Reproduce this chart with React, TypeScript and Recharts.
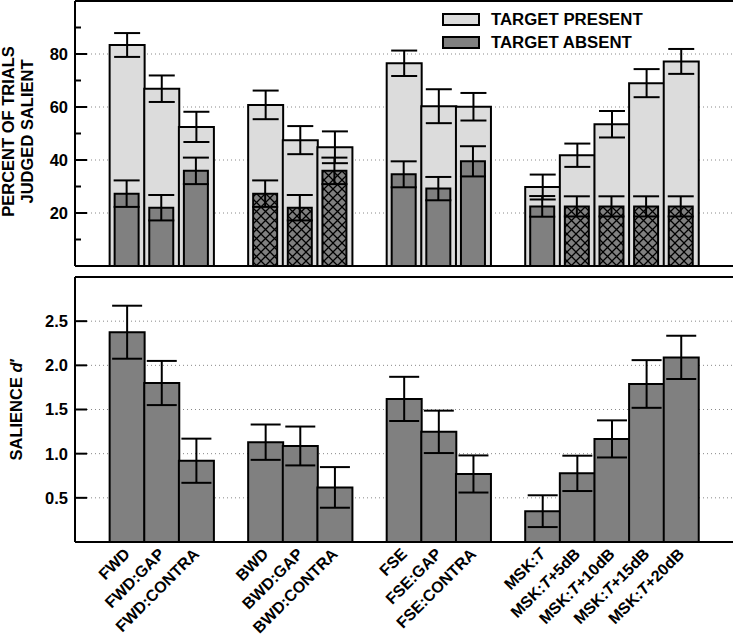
import React from "react";
import { BarChart, Bar, XAxis, YAxis, CartesianGrid, ErrorBar, Cell, ReferenceLine, Label } from "recharts";

const categories = [
  "FWD", "FWD:GAP", "FWD:CONTRA",
  "BWD", "BWD:GAP", "BWD:CONTRA",
  "FSE", "FSE:GAP", "FSE:CONTRA",
  "MSK:T", "MSK:T+5dB", "MSK:T+10dB", "MSK:T+15dB", "MSK:T+20dB",
];
const groupSizes = [3, 3, 3, 5];

// top panel: percent of trials judged salient
const present = [83.4, 66.9, 52.5, 60.8, 47.5, 44.8, 76.5, 60.3, 60.1, 29.8, 41.8, 53.5, 69.0, 77.2];
const presentErr = [4.5, 5.0, 5.7, 5.4, 5.3, 6.0, 4.8, 6.4, 5.2, 4.7, 4.4, 5.0, 5.3, 4.7];
const absent = [27.3, 22.0, 35.9, 27.3, 22.0, 35.9, 34.6, 29.2, 39.5, 22.5, 22.5, 22.5, 22.5, 22.5];
const absentErr = [5.0, 4.8, 5.0, 5.0, 4.8, 5.0, 4.9, 4.4, 5.7, 3.9, 3.8, 3.8, 3.8, 3.8];
const hatched = [false, false, false, true, true, true, false, false, false, false, true, true, true, true];

// bottom panel: salience d'
const salience = [2.375, 1.8, 0.92, 1.13, 1.087, 0.618, 1.62, 1.247, 0.77, 0.349, 0.777, 1.167, 1.789, 2.09];
const salienceErr = [0.3, 0.25, 0.25, 0.2, 0.22, 0.23, 0.25, 0.24, 0.21, 0.18, 0.2, 0.21, 0.27, 0.245];

const pctTicks = [10, 20, 30, 40, 50, 60, 70, 80, 90];
const pctMajor = [20, 40, 60, 80];
const dTicks = [0.5, 1, 1.5, 2, 2.5];

const FONT = "'Liberation Sans', Arial, Helvetica, sans-serif";
const LIGHT = "#dcdcdc";
const DARK = "#808080";

type Row = {
  key: string;
  present?: number;
  presentErr?: number;
  absent?: number;
  absentErr?: number;
  hatched?: boolean;
  salience?: number;
  salienceErr?: number;
};

// one empty slot before, between and after the groups
const rows: Row[] = [{ key: "gap0" }];
let idx = 0;
groupSizes.forEach((n, g) => {
  for (let k = 0; k < n; k++, idx++) {
    rows.push({
      key: categories[idx],
      present: present[idx],
      presentErr: presentErr[idx],
      absent: absent[idx],
      absentErr: absentErr[idx],
      hatched: hatched[idx],
      salience: salience[idx],
      salienceErr: salienceErr[idx],
    });
  }
  rows.push({ key: `gap${g + 1}` });
});

const textStyle = { fontFamily: FONT, fontWeight: 700, fontSize: 16.5, fill: "#000" };

function LeftTick(props: any) {
  const { x, y, payload, majors, len, fmt } = props;
  const major = majors.includes(payload.value);
  return (
    <g>
      <line x1={x} x2={x + (major ? len : len / 2)} y1={y} y2={y} stroke="#000" strokeWidth={2} />
      {major && (
        <text x={x - 7} y={y} dy="0.36em" textAnchor="end" style={textStyle}>
          {fmt(payload.value)}
        </text>
      )}
    </g>
  );
}

function RightTick(props: any) {
  const { x, y, payload, majors, len } = props;
  const major = majors.includes(payload.value);
  return <line x1={x} x2={x - (major ? len : len / 2)} y1={y} y2={y} stroke="#000" strokeWidth={2} />;
}

function CatTick(props: any) {
  const { x, y, payload } = props;
  const name: string = payload.value;
  if (name.startsWith("gap")) return <g />;
  const ax = x + 4;
  const ay = y + 13;
  let content: React.ReactNode = name;
  if (name.startsWith("MSK:T")) {
    content = (
      <>
        <tspan>MSK:</tspan>
        <tspan fontStyle="italic">T</tspan>
        <tspan>{name.slice(5)}</tspan>
      </>
    );
  }
  return (
    <text x={ax} y={ay} transform={`rotate(-45 ${ax} ${ay})`} textAnchor="end" style={{ ...textStyle, fontSize: 16 }}>
      {content}
    </text>
  );
}

function PctLabel(props: any) {
  const { viewBox } = props;
  const cy = viewBox.y + viewBox.height / 2 - 2;
  return (
    <g style={textStyle}>
      <text x={14} y={cy} transform={`rotate(-90 14 ${cy})`} textAnchor="middle">PERCENT OF TRIALS</text>
      <text x={33} y={cy} transform={`rotate(-90 33 ${cy})`} textAnchor="middle">JUDGED SALIENT</text>
    </g>
  );
}

function SalLabel(props: any) {
  const { viewBox } = props;
  const cy = viewBox.y + viewBox.height / 2;
  return (
    <text x={22} y={cy} transform={`rotate(-90 22 ${cy})`} textAnchor="middle" style={textStyle}>
      SALIENCE <tspan fontStyle="italic">d</tspan>′
    </text>
  );
}

function LegendBox() {
  const item = (top: number, fill: string, text: string) => (
    <>
      <div style={{ position: "absolute", left: 442, top, width: 38, height: 13, boxSizing: "border-box", border: "2px solid #000", background: fill }} />
      <div style={{ position: "absolute", left: 491, top: top - 1, font: `bold 16.8px ${FONT}`, lineHeight: "16px", whiteSpace: "nowrap" }}>{text}</div>
    </>
  );
  return (
    <>
      {item(13, LIGHT, "TARGET PRESENT")}
      {item(36, DARK, "TARGET ABSENT")}
    </>
  );
}

export default function App() {
  return (
    <div style={{ position: "absolute", left: 0, top: 0, width: 737, height: 637, background: "#fff" }}>
      <div style={{ position: "absolute", left: 0, top: 0 }}>
        <BarChart width={737} height={268} data={rows} margin={{ top: 1, right: 4, bottom: 0, left: 0 }} barCategoryGap={0} barGap={0}>
          <defs>
            <pattern id="xhatch" patternUnits="userSpaceOnUse" width={9} height={9}>
              <rect width={9} height={9} fill={DARK} />
              <path d="M-1,-1 L10,10 M10,-1 L-1,10" stroke="#000" strokeWidth={1.3} />
            </pattern>
          </defs>
          <CartesianGrid vertical={false} horizontalValues={pctMajor} stroke="#888" strokeDasharray="1 3" yAxisId="l" />
          <XAxis dataKey="key" xAxisId="a" height={2} tick={false} tickLine={false} axisLine={{ stroke: "#000", strokeWidth: 2 }} />
          <XAxis dataKey="key" xAxisId="b" hide />
          <YAxis yAxisId="l" width={75} domain={[0, 100]} ticks={pctTicks} interval={0} tickSize={0} tickMargin={0} tickLine={false}
            axisLine={{ stroke: "#000", strokeWidth: 2 }}
            tick={(p: any) => <LeftTick {...p} majors={pctMajor} len={12} fmt={(v: number) => String(v)} />}>
            <Label content={PctLabel} />
          </YAxis>
          <YAxis yAxisId="r" orientation="right" width={0} domain={[0, 100]} ticks={pctTicks} interval={0} tickSize={0} tickMargin={0} tickLine={false}
            axisLine={{ stroke: "#000", strokeWidth: 2 }}
            tick={(p: any) => <RightTick {...p} majors={pctMajor} len={10} />} />
          <ReferenceLine y={100} yAxisId="l" xAxisId="a" stroke="#000" strokeWidth={2} />
          <Bar dataKey="present" xAxisId="a" yAxisId="l" fill={LIGHT} stroke="#000" strokeWidth={2} isAnimationActive={false}>
            <ErrorBar dataKey="presentErr" width={13} stroke="#000" strokeWidth={2} />
          </Bar>
          <Bar dataKey="absent" xAxisId="b" yAxisId="l" barSize={24} fill={DARK} stroke="#000" strokeWidth={2} isAnimationActive={false}>
            {rows.map((r) => (
              <Cell key={r.key} fill={r.hatched ? "url(#xhatch)" : DARK} />
            ))}
            <ErrorBar dataKey="absentErr" width={13} stroke="#000" strokeWidth={2} />
          </Bar>
        </BarChart>
      </div>
      <LegendBox />
      <div style={{ position: "absolute", left: 0, top: 268 }}>
        <BarChart width={737} height={369} data={rows} margin={{ top: 9, right: 4, bottom: 0, left: 0 }} barCategoryGap={0}>
          <CartesianGrid vertical={false} horizontalValues={dTicks} stroke="#888" strokeDasharray="1 3" yAxisId="l" />
          <XAxis dataKey="key" height={95} interval={0} tickSize={0} tickMargin={0} tickLine={false}
            axisLine={{ stroke: "#000", strokeWidth: 2 }} tick={CatTick} />
          <YAxis yAxisId="l" width={75} domain={[0, 3]} ticks={dTicks} interval={0} tickSize={0} tickMargin={0} tickLine={false}
            axisLine={{ stroke: "#000", strokeWidth: 2 }}
            tick={(p: any) => <LeftTick {...p} majors={dTicks} len={12} fmt={(v: number) => v.toFixed(1)} />}>
            <Label content={SalLabel} />
          </YAxis>
          <YAxis yAxisId="r" orientation="right" width={0} domain={[0, 3]} ticks={dTicks} interval={0} tickSize={0} tickMargin={0} tickLine={false}
            axisLine={{ stroke: "#000", strokeWidth: 2 }}
            tick={(p: any) => <RightTick {...p} majors={dTicks} len={8} />} />
          <ReferenceLine y={3} yAxisId="l" stroke="#000" strokeWidth={2} />
          <Bar dataKey="salience" yAxisId="l" fill={DARK} stroke="#000" strokeWidth={2} isAnimationActive={false}>
            <ErrorBar dataKey="salienceErr" width={15} stroke="#000" strokeWidth={2} />
          </Bar>
        </BarChart>
      </div>
    </div>
  );
}
